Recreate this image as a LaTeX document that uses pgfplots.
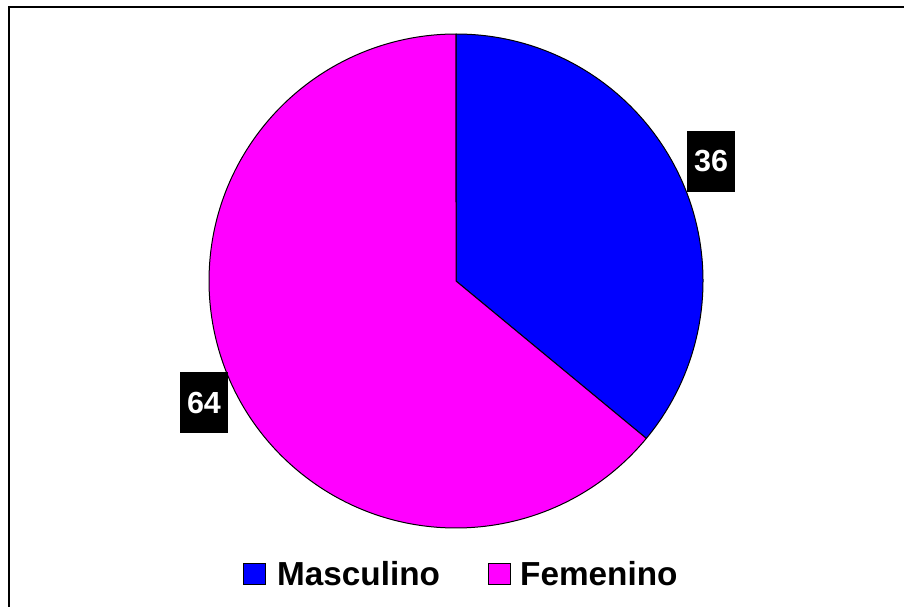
\documentclass[border=0pt]{standalone}
\usepackage{pgfplots}
\pgfplotsset{compat=1.18}
\usepackage{pgfplotstable}
\usepackage{fontspec}
\setmainfont{Liberation Sans}
\definecolor{masc}{RGB}{0,0,255}
\definecolor{fem}{RGB}{255,0,255}
\pgfplotstableread{
label value
Masculino 36
Femenino 64
}\piedata
\begin{document}
\begin{tikzpicture}
\pgfplotstablegetelem{0}{value}\of\piedata \let\vA\pgfplotsretval
\pgfplotstablegetelem{1}{value}\of\piedata \let\vB\pgfplotsretval
\pgfmathsetmacro\total{\vA+\vB}
\pgfmathsetmacro\aA{90}
\pgfmathsetmacro\aB{90-360*(\vA/\total)}
\pgfmathsetmacro\aC{\aB-360*(\vB/\total)}
\begin{axis}[name=ax, hide axis, scale only axis, x=1pt, y=1pt,
  xmin=0, xmax=904, ymin=0, ymax=606, clip=false]
% pie slices
\filldraw[fill=masc, draw=black, line width=1pt, line join=round]
  (axis cs:456,325) -- ++(\aA:247pt) arc[start angle=\aA, end angle=\aB, radius=247pt] -- cycle;
\filldraw[fill=fem, draw=black, line width=1pt, line join=round]
  (axis cs:456,325) -- ++(\aB:247pt) arc[start angle=\aB, end angle=\aC, radius=247pt] -- cycle;
% data labels
\node[fill=black, text=white, font=\fontsize{30.5}{30}\selectfont\bfseries,
  minimum width=48pt, minimum height=61pt, inner sep=0pt] at (axis cs:711,444.5) {\vA};
\node[fill=black, text=white, font=\fontsize{30.5}{30}\selectfont\bfseries,
  minimum width=48pt, minimum height=61pt, inner sep=0pt] at (axis cs:204,203.5) {\vB};
% legend
\filldraw[fill=masc, draw=black, line width=1pt] (axis cs:243.5,22) rectangle (axis cs:265.5,43);
\node[anchor=base west, inner sep=0pt, font=\fontsize{33.3}{34}\selectfont\bfseries]
  at (axis cs:277,21) {Masculino};
\filldraw[fill=fem, draw=black, line width=1pt] (axis cs:488,22) rectangle (axis cs:510,43);
\node[anchor=base west, inner sep=0pt, font=\fontsize{33.3}{34}\selectfont\bfseries]
  at (axis cs:520,21) {Femenino};
% chart frame (cropped at right and bottom)
\draw[line width=2pt] (axis cs:8.5,-30) -- (axis cs:8.5,598.5) -- (axis cs:940,598.5);
\end{axis}
\pgfresetboundingbox
\path[use as bounding box] (ax.south west) rectangle (ax.north east);
\end{tikzpicture}
\end{document}
